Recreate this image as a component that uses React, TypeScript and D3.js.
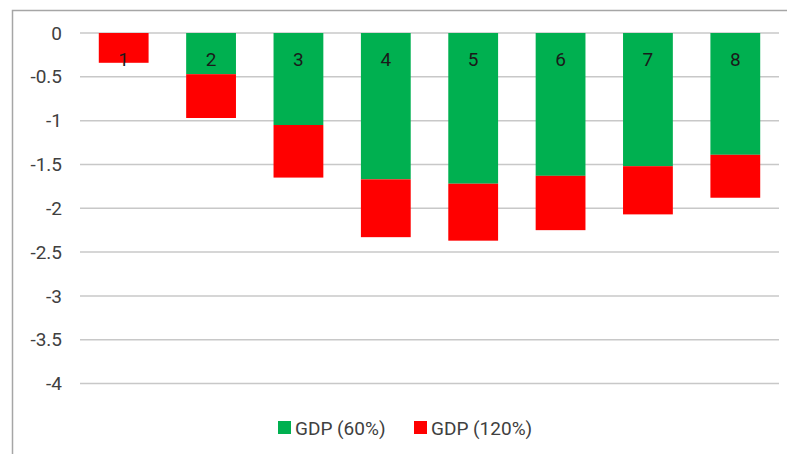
import React, { useEffect, useRef } from 'react';
import * as d3 from 'd3';

// categories and stacked values (negative)
const categories = ['1', '2', '3', '4', '5', '6', '7', '8'];
const gdp60 = [0, -0.47, -1.05, -1.67, -1.72, -1.63, -1.52, -1.39];
const gdp120 = [-0.34, -0.5, -0.6, -0.66, -0.65, -0.62, -0.55, -0.49];
const yTicks = [0, -0.5, -1, -1.5, -2, -2.5, -3, -3.5, -4];
const seriesNames = ['GDP (60%)', 'GDP (120%)'];
const seriesColors = ['#00b050', '#ff0000'];

const W = 787;
const H = 454;
const FONT = "'Liberation Sans Narrow', Roboto, sans-serif";

const App = () => {
    const svgRef = useRef<SVGSVGElement>(null);

    useEffect(() => {
        const svg = d3.select(svgRef.current);
        svg.selectAll('*').remove();

        const x = d3.scaleBand().domain(categories).range([80, 779]).paddingInner(0.43).paddingOuter(0.215);
        const y = d3.scaleLinear().domain([0, -4]).range([33, 383.5]);

        svg.append('rect').attr('width', W).attr('height', H).attr('fill', '#fff');
        // chart border
        svg.append('rect')
            .attr('x', 12.5).attr('y', 10.5).attr('width', 800).attr('height', 460)
            .attr('fill', 'none').attr('stroke', '#a6a6a6').attr('stroke-width', 1.5);

        // gridlines
        svg.append('g').selectAll('line').data(yTicks).join('line')
            .attr('x1', 80).attr('x2', 779)
            .attr('y1', d => y(d)).attr('y2', d => y(d))
            .attr('stroke', '#c8c8c8').attr('stroke-width', 1.5);

        // y tick labels
        svg.append('g').selectAll('text').data(yTicks).join('text')
            .attr('x', 62).attr('y', d => y(d)).attr('dy', '0.35em')
            .attr('text-anchor', 'end')
            .attr('font-family', FONT).attr('font-size', 19).attr('fill', '#404040')
            .text(d => String(d));

        // stacked bars
        const rows = categories.map((c, i) => ({ cat: c, a: gdp60[i], b: gdp120[i] }));
        const g = svg.append('g');
        g.selectAll('rect.s60').data(rows).join('rect')
            .attr('class', 's60')
            .attr('x', d => x(d.cat)!).attr('width', x.bandwidth())
            .attr('y', y(0)).attr('height', d => y(d.a) - y(0))
            .attr('fill', seriesColors[0]);
        g.selectAll('rect.s120').data(rows).join('rect')
            .attr('class', 's120')
            .attr('x', d => x(d.cat)!).attr('width', x.bandwidth())
            .attr('y', d => y(d.a)).attr('height', d => y(d.a + d.b) - y(d.a))
            .attr('fill', seriesColors[1]);

        // category labels just under the zero line
        svg.append('g').selectAll('text').data(categories).join('text')
            .attr('x', d => x(d)! + x.bandwidth() / 2).attr('y', y(0) + 33)
            .attr('text-anchor', 'middle')
            .attr('font-family', FONT).attr('font-size', 19).attr('fill', '#1a1a1a')
            .text(d => d);

        // legend
        const legend = svg.append('g');
        const items = [{ x: 278, name: seriesNames[0], color: seriesColors[0] }, { x: 414, name: seriesNames[1], color: seriesColors[1] }];
        items.forEach(it => {
            legend.append('rect').attr('x', it.x).attr('y', 421).attr('width', 13).attr('height', 13).attr('fill', it.color);
            legend.append('text').attr('x', it.x + 17).attr('y', 428).attr('dy', '0.35em')
                .attr('font-family', FONT).attr('font-size', 19).attr('fill', '#404040')
                .text(it.name);
        });
    }, []);

    return (
        <svg ref={svgRef} width={W} height={H} style={{ position: 'absolute', left: 0, top: 0, display: 'block' }}></svg>
    );
};

export default App;
